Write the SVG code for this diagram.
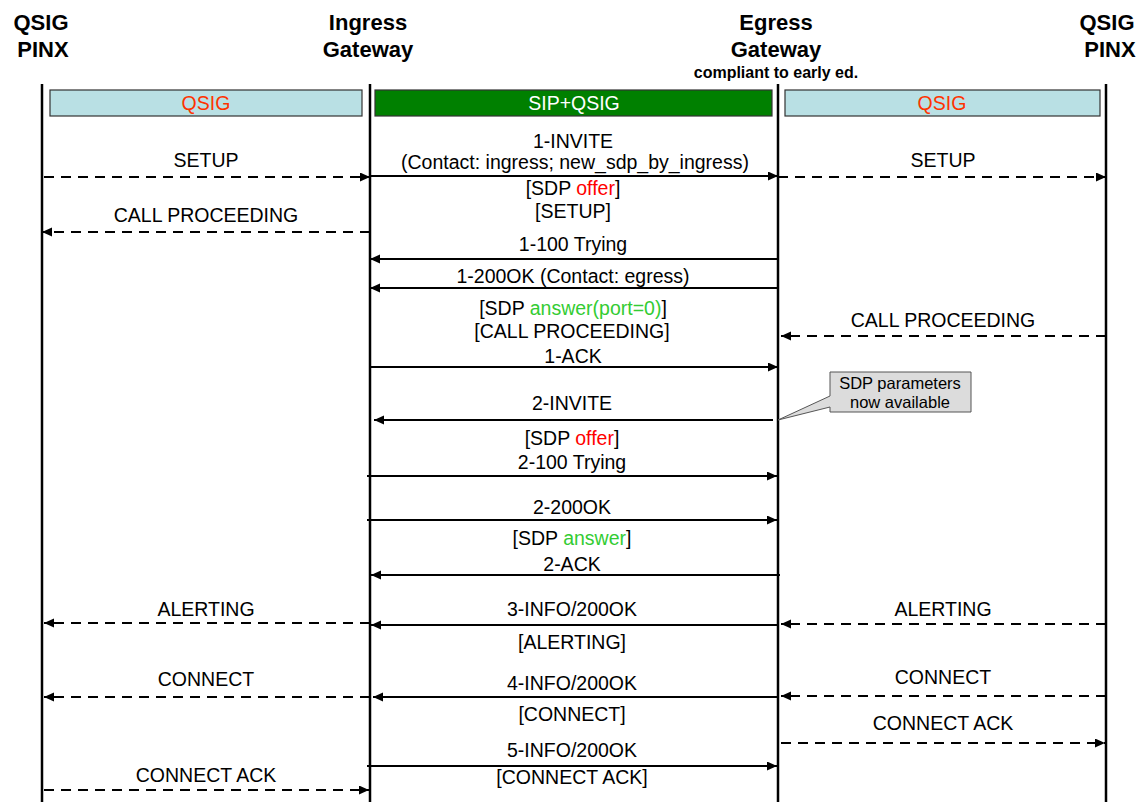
<svg xmlns="http://www.w3.org/2000/svg" width="1138" height="802" viewBox="0 0 1138 802">
<defs>
<style>
.hdr{font-family:"Liberation Sans",Arial,sans-serif;font-weight:bold;font-size:22px;fill:#000;text-anchor:middle}
.sub{font-family:"Liberation Sans",Arial,sans-serif;font-weight:bold;font-size:16px;fill:#000;text-anchor:middle}
.lbl{font-family:"Liberation Sans",Arial,sans-serif;font-size:19.5px;fill:#000;text-anchor:middle}
.note{font-family:"Liberation Sans",Arial,sans-serif;font-size:16.5px;fill:#000;text-anchor:middle}
.red{fill:#ff0000}
.grn{fill:#33cc33}
.life{stroke:#000;stroke-width:2.5;fill:none}
.band{stroke:#333;stroke-width:1.2}
.sol{stroke:#000;stroke-width:2;fill:none;marker-end:url(#ah)}
.dsh{stroke:#000;stroke-width:2;fill:none;stroke-dasharray:10 7;marker-end:url(#ah)}
</style>
<marker id="ah" markerUnits="userSpaceOnUse" markerWidth="11" markerHeight="10" refX="10" refY="4.5" orient="auto">
<path d="M0,0 L10,4.5 L0,9 Z" fill="#000"/>
</marker>
</defs>
<rect width="1138" height="802" fill="#fff"/>

<g id="pinx-left">
<text class="hdr" x="41" y="30">QSIG</text>
<text class="hdr" x="43" y="57">PINX</text>
<line class="life" x1="42" y1="84" x2="42" y2="802"/>
</g>
<g id="ingress">
<text class="hdr" x="368" y="30">Ingress</text>
<text class="hdr" x="368" y="57">Gateway</text>
<line class="life" x1="370" y1="84" x2="370" y2="802"/>
</g>
<g id="egress">
<text class="hdr" x="776" y="30">Egress</text>
<text class="hdr" x="776" y="57">Gateway</text>
<text class="sub" x="776" y="78">compliant to early ed.</text>
<line class="life" x1="778" y1="84" x2="778" y2="802"/>
</g>
<g id="pinx-right">
<text class="hdr" x="1107" y="30">QSIG</text>
<text class="hdr" x="1110" y="57">PINX</text>
<line class="life" x1="1106" y1="84" x2="1106" y2="802"/>
</g>

<g id="bands">
<rect class="band" x="50" y="90" width="312" height="26" fill="#b9e0e4"/>
<text class="lbl" x="206" y="110" style="fill:#ff3300">QSIG</text>
<rect class="band" x="375" y="90" width="397" height="26" fill="#008000"/>
<text class="lbl" x="574" y="110" style="fill:#fff">SIP+QSIG</text>
<rect class="band" x="785" y="90" width="315" height="26" fill="#b9e0e4"/>
<text class="lbl" x="942" y="110" style="fill:#ff3300">QSIG</text>
</g>

<g id="callout">
<path d="M830,372 H971 V412 H830 V407 L778,420 L830,396 Z" fill="#dcdcdc" stroke="#555" stroke-width="1"/>
<text class="note" x="900" y="389">SDP parameters</text>
<text class="note" x="900" y="408">now available</text>
</g>

<g id="connectors">
<line class="dsh" x1="44" y1="177" x2="370" y2="177"/>
<line class="dsh" x1="370" y1="232" x2="42" y2="232"/>
<line class="dsh" x1="370" y1="623" x2="44" y2="623"/>
<line class="dsh" x1="370" y1="697" x2="44" y2="697"/>
<line class="dsh" x1="44" y1="790" x2="369" y2="790"/>

<line class="sol" x1="370" y1="176" x2="778" y2="176"/>
<line class="sol" x1="778" y1="259" x2="370" y2="259"/>
<line class="sol" x1="778" y1="288" x2="370" y2="288"/>
<line class="sol" x1="370" y1="367" x2="778" y2="367"/>
<line class="sol" x1="773" y1="420" x2="374" y2="420"/>
<line class="sol" x1="367" y1="476" x2="777" y2="476"/>
<line class="sol" x1="367" y1="520" x2="777" y2="520"/>
<line class="sol" x1="780" y1="575" x2="371" y2="575"/>
<line class="sol" x1="778" y1="625" x2="371" y2="625"/>
<line class="sol" x1="778" y1="697" x2="373" y2="697"/>
<line class="sol" x1="367" y1="766" x2="777" y2="766"/>

<line class="dsh" x1="778" y1="177" x2="1106" y2="177"/>
<line class="dsh" x1="1106" y1="336" x2="781" y2="336"/>
<line class="dsh" x1="1106" y1="624" x2="781" y2="624"/>
<line class="dsh" x1="1106" y1="696" x2="781" y2="696"/>
<line class="dsh" x1="781" y1="743" x2="1105" y2="743"/>
</g>

<g id="labels">
<text class="lbl" x="206" y="167">SETUP</text>
<text class="lbl" x="206" y="222">CALL PROCEEDING</text>
<text class="lbl" x="206" y="616">ALERTING</text>
<text class="lbl" x="206" y="686">CONNECT</text>
<text class="lbl" x="206" y="782">CONNECT ACK</text>

<text class="lbl" x="943" y="167">SETUP</text>
<text class="lbl" x="943" y="327">CALL PROCEEDING</text>
<text class="lbl" x="943" y="616">ALERTING</text>
<text class="lbl" x="943" y="684">CONNECT</text>
<text class="lbl" x="943" y="730">CONNECT ACK</text>

<text class="lbl" x="573" y="148">1-INVITE</text>
<text class="lbl" x="575" y="169">(Contact: ingress; new_sdp_by_ingress)</text>
<text class="lbl" x="573" y="195">[SDP <tspan class="red">offer</tspan>]</text>
<text class="lbl" x="573" y="218">[SETUP]</text>
<text class="lbl" x="573" y="251">1-100 Trying</text>
<text class="lbl" x="573" y="283">1-200OK (Contact: egress)</text>
<text class="lbl" x="573" y="315">[SDP <tspan class="grn">answer(port=0)</tspan>]</text>
<text class="lbl" x="572" y="338">[CALL PROCEEDING]</text>
<text class="lbl" x="573" y="363">1-ACK</text>
<text class="lbl" x="572" y="410">2-INVITE</text>
<text class="lbl" x="572" y="445">[SDP <tspan class="red">offer</tspan>]</text>
<text class="lbl" x="572" y="469">2-100 Trying</text>
<text class="lbl" x="572" y="514">2-200OK</text>
<text class="lbl" x="572" y="545">[SDP <tspan class="grn">answer</tspan>]</text>
<text class="lbl" x="572" y="571">2-ACK</text>
<text class="lbl" x="572" y="616">3-INFO/200OK</text>
<text class="lbl" x="572" y="649">[ALERTING]</text>
<text class="lbl" x="572" y="690">4-INFO/200OK</text>
<text class="lbl" x="572" y="721">[CONNECT]</text>
<text class="lbl" x="572" y="757">5-INFO/200OK</text>
<text class="lbl" x="572" y="784">[CONNECT ACK]</text>
</g>
</svg>
